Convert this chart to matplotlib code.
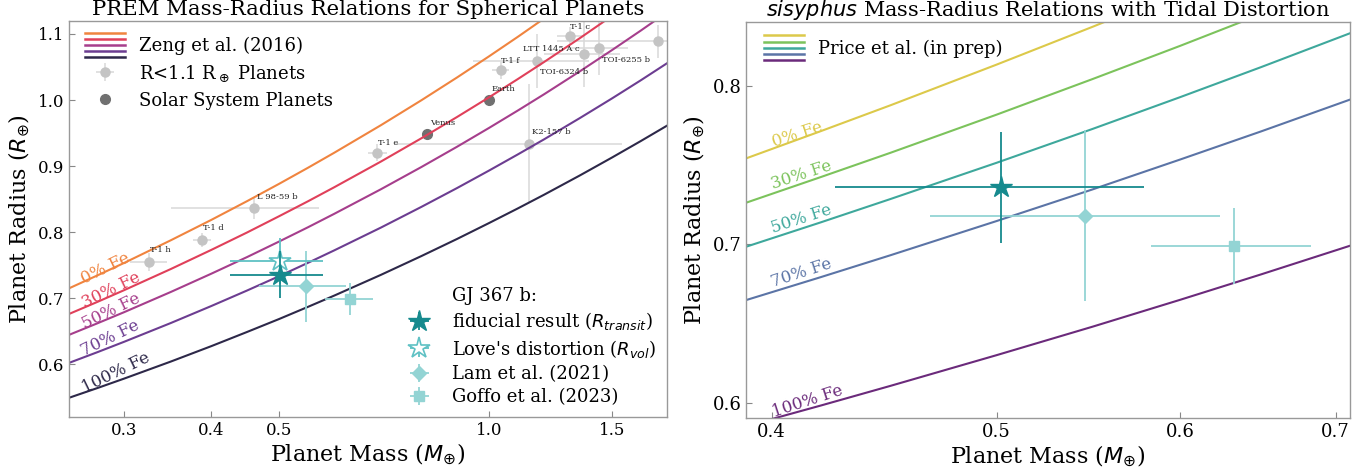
import matplotlib
matplotlib.use('Agg')
import matplotlib.pyplot as plt
from matplotlib.legend_handler import HandlerBase
from matplotlib.lines import Line2D
from matplotlib.ticker import FixedLocator, FixedFormatter, NullLocator

# ---------------- data ----------------
# Zeng et al. (2016) curves, left panel
zeng_mass = [0.25, 0.275, 0.3, 0.35, 0.4, 0.45, 0.5, 0.55, 0.6, 0.7, 0.8, 0.9,
             1.0, 1.1, 1.2, 1.35, 1.5, 1.65, 1.8]
zeng_r_0 = [0.7151, 0.7350, 0.7536, 0.7879, 0.8187, 0.8470, 0.8731, 0.8974, 0.9202,
            0.9619, 0.9996, 1.0341, 1.066, 1.0956, 1.1234]
zeng_r_30 = [0.6763, 0.6949, 0.7124, 0.7444, 0.7733, 0.7996, 0.8241, 0.8467, 0.8680,
             0.9069, 0.9421, 0.9743, 1.004, 1.0317, 1.0576, 1.0936, 1.1270]
zeng_r_50 = [0.6447, 0.6625, 0.6791, 0.7097, 0.7373, 0.7624, 0.7858, 0.8074, 0.8278,
             0.8650, 0.8986, 0.9293, 0.9577, 0.9841, 1.0088, 1.0434, 1.0753, 1.1049, 1.1327]
zeng_r_70 = [0.6023, 0.6188, 0.6343, 0.6627, 0.6884, 0.7118, 0.7334, 0.7536, 0.7725,
             0.8070, 0.8383, 0.8668, 0.8932, 0.9177, 0.9406, 0.9727, 1.0022, 1.0297, 1.0556]
zeng_r_100 = [0.5495, 0.5645, 0.5786, 0.6044, 0.6277, 0.6491, 0.6686, 0.6870, 0.7041,
              0.7355, 0.7639, 0.7898, 0.8138, 0.8360, 0.8568, 0.8859, 0.9128, 0.9378, 0.9612]
fe_labels = ['0% Fe', '30% Fe', '50% Fe', '70% Fe', '100% Fe']

# sisyphus curves, right panel
sis_mass = [0.39, 0.42, 0.45, 0.5, 0.55, 0.6, 0.65, 0.71]
sis_r_0 = [0.7543, 0.7715, 0.7878, 0.8135, 0.8374, 0.8599]
sis_r_30 = [0.7263, 0.7425, 0.7578, 0.7819, 0.8044, 0.8254, 0.8453]
sis_r_50 = [0.6985, 0.7139, 0.7286, 0.7515, 0.7729, 0.7930, 0.8119, 0.8333]
sis_r_70 = [0.6648, 0.6793, 0.6931, 0.7147, 0.7347, 0.7536, 0.7713, 0.7914]
sis_r_100 = [0.5852, 0.5982, 0.6106, 0.6300, 0.6480, 0.6650, 0.6810, 0.6991]

# small planets (R < 1.1 R_earth)
planet_names = ['T-1 h', 'T-1 d', 'L 98-59 b', 'T-1 e', 'T-1 f', 'T-1 c',
                'LTT 1445 A c', 'TOI-6324 b', 'TOI-6255 b', 'K2-157 b', '']
planet_mass = [0.326, 0.388, 0.46, 0.692, 1.039, 1.308, 1.37, 1.17, 1.44, 1.14, 1.75]
planet_mass_err = [0.020, 0.012, 0.11, 0.022, 0.028, 0.056, 0.17, 0.22, 0.14, 0.41, 0.5]
planet_radius = [0.755, 0.788, 0.837, 0.920, 1.045, 1.097, 1.07, 1.059, 1.078, 0.934, 1.089]
planet_radius_err = [0.014, 0.011, 0.017, 0.013, 0.013, 0.014, 0.05, 0.041, 0.04, 0.09, 0.025]

# solar system planets
solar_names = ['Venus', 'Earth']
solar_mass = [0.815, 1.0]
solar_radius = [0.949, 1.0]

# GJ 367 b
gj_title = 'GJ 367 b:'
gj_labels = ['fiducial result ($R_{transit}$)', "Love's distortion ($R_{vol}$)",
             'Lam et al. (2021)', 'Goffo et al. (2023)']
gj_mass = [0.502, 0.502, 0.546, 0.633]
gj_mass_err_lo = [0.076, 0.076, 0.078, 0.050]
gj_mass_err_hi = [0.077, 0.077, 0.078, 0.050]
gj_radius = [0.736, 0.757, 0.718, 0.699]
gj_radius_err = [0.035, 0.035, 0.054, 0.024]

left_xticks = [0.3, 0.4, 0.5, 1.0, 1.5]
left_xticklabels = ['0.3', '0.4', '0.5', '1.0', '1.5']
left_yticks = [0.6, 0.7, 0.8, 0.9, 1.0, 1.1]
right_xticks = [0.4, 0.5, 0.6, 0.7]
right_xticklabels = ['0.4', '0.5', '0.6', '0.7']
right_yticks = [0.6, 0.7, 0.8]

# ---------------- styling ----------------
plt.rcParams['font.family'] = ['DejaVu Serif']
plt.rcParams['mathtext.fontset'] = 'dejavusans'

zeng_colors = ['#f0843f', '#e0405a', '#a63e8c', '#6c3d91', '#2d2849']
sis_colors = ['#dcc94a', '#7cc35c', '#3ea89c', '#5b74a6', '#6b2a7b']
c_fid = '#168a8e'
c_love = '#5fc1c4'
c_lit = '#93d4d4'
c_planet = '#c4c4c4'
c_planet_err = '#d8d8d8'
c_solar = '#707070'


class MultiLineHandler(HandlerBase):
    def __init__(self, colors, spacing=0.34, lw=1.8):
        super().__init__()
        self.colors = colors
        self.spacing = spacing
        self.lw = lw

    def create_artists(self, legend, orig_handle, xdescent, ydescent,
                       width, height, fontsize, trans):
        n = len(self.colors)
        yc = height / 2 - ydescent
        arts = []
        for i, c in enumerate(self.colors):
            y = yc + ((n - 1) / 2 - i) * self.spacing * fontsize
            arts.append(Line2D([-xdescent, width - xdescent], [y, y], color=c,
                               lw=self.lw, transform=trans))
        return arts


class ZengProxy:
    pass


class PriceProxy:
    pass


def style_axes(ax, labelsize):
    for s in ax.spines.values():
        s.set_color('#999999')
        s.set_linewidth(1.0)
    ax.tick_params(which='both', direction='in', length=4, color='#888888',
                   labelcolor='black', labelsize=labelsize)


W, H = 1369, 469
fig = plt.figure(figsize=(W / 100, H / 100), dpi=100)
ax1 = fig.add_axes([69 / W, 1 - 417.3 / H, (667 - 69) / W, (417.3 - 20.7) / H])
ax2 = fig.add_axes([746.2 / W, 1 - 417.7 / H, (1350 - 746.2) / W, (417.7 - 21.7) / H])

# ---------------- left panel ----------------
ax1.set_xscale('log')
for r, c in zip([zeng_r_0, zeng_r_30, zeng_r_50, zeng_r_70, zeng_r_100], zeng_colors):
    ax1.plot(zeng_mass[:len(r)], r, color=c, lw=1.5, zorder=2)

fe_pos_left = [(0.282, 0.7445), (0.2874, 0.7117), (0.2874, 0.6799), (0.2866, 0.6401), (0.2915, 0.5876)]
for (mx, ry), lab, c in zip(fe_pos_left, fe_labels, zeng_colors):
    ax1.text(mx, ry, lab, color=c, fontsize=12, rotation=26, rotation_mode='anchor',
             ha='center', va='center', zorder=4)

planet_cont = None
for m, me, r, re_ in zip(planet_mass, planet_mass_err, planet_radius, planet_radius_err):
    planet_cont = ax1.errorbar(m, r, xerr=me, yerr=re_, fmt='o', color=c_planet, ms=6.5,
                               ecolor=c_planet_err, elinewidth=1.1, capsize=0, zorder=1)
ax1.plot(solar_mass, solar_radius, 'o', color=c_solar, ms=7, zorder=1.5)

# planet label offsets (pixels -> points)
lab_off = {'T-1 h': (1, 8, 'left', 'bottom'), 'T-1 d': (1, 8, 'left', 'bottom'),
           'L 98-59 b': (3, 7, 'left', 'bottom'), 'T-1 e': (1, 6, 'left', 'bottom'),
           'T-1 f': (0, 5, 'left', 'bottom'), 'T-1 c': (0, 5, 'left', 'bottom'),
           'LTT 1445 A c': (-5, 1, 'right', 'bottom'), 'TOI-6324 b': (3, -7, 'left', 'top'),
           'TOI-6255 b': (3, -8, 'left', 'top'), 'K2-157 b': (3, 8, 'left', 'bottom'),
           'Venus': (3, 7, 'left', 'bottom'), 'Earth': (3, 7, 'left', 'bottom')}
for name, m, r in list(zip(planet_names, planet_mass, planet_radius)) + \
        list(zip(solar_names, solar_mass, solar_radius)):
    if not name:
        continue
    dx, dy, ha, va = lab_off[name]
    ax1.annotate(name, (m, r), xytext=(dx * 0.72, dy * 0.72), textcoords='offset points',
                 fontsize=6, color='#222222', ha=ha, va=va, zorder=3)

gj_style = [dict(fmt='*', color=c_fid, ms=16, mfc=c_fid, mec=c_fid, zorder=6),
            dict(fmt='*', color=c_love, ms=16, mfc='white', mec=c_love, mew=1.2, zorder=5),
            dict(fmt='D', color=c_lit, ms=7, zorder=4),
            dict(fmt='s', color=c_lit, ms=7, zorder=4)]
gj_handles = []
for i in range(4):
    st = dict(gj_style[i])
    h = ax1.errorbar(gj_mass[i], gj_radius[i],
                     xerr=[[gj_mass_err_lo[i]], [gj_mass_err_hi[i]]],
                     yerr=gj_radius_err[i], capsize=0, elinewidth=1.3, **st)
    gj_handles.append(h)

ax1.xaxis.set_major_locator(FixedLocator(left_xticks))
ax1.xaxis.set_major_formatter(FixedFormatter(left_xticklabels))
ax1.xaxis.set_minor_locator(NullLocator())
ax1.set_yticks(left_yticks)
ax1.set_xlim(0.25, 1.8)
ax1.set_ylim(0.52, 1.12)
style_axes(ax1, 12)
ax1.set_xlabel(r'Planet Mass ($M_{\oplus}$)', fontsize=16, labelpad=2)
ax1.set_ylabel(r'Planet Radius ($R_{\oplus}$)', fontsize=16, labelpad=4)
ax1.set_title('PREM Mass-Radius Relations for Spherical Planets', fontsize=15.3, pad=4)

leg1 = ax1.legend([ZengProxy(), planet_cont, Line2D([], [], ls='none', marker='o', color=c_solar, ms=7)],
                  ['Zeng et al. (2016)', r'R<1.1 R$_\oplus$ Planets', 'Solar System Planets'],
                  handler_map={ZengProxy: MultiLineHandler(zeng_colors)},
                  loc='upper left', frameon=False, fontsize=13, handlelength=2.2,
                  borderaxespad=0.5, labelspacing=0.45)
ax1.add_artist(leg1)
blank = Line2D([], [], ls='none', marker='none')
leg2 = ax1.legend([blank] + gj_handles, [gj_title] + gj_labels,
                  loc='lower right', frameon=False, fontsize=13,
                  handlelength=2.0, borderaxespad=0.2, labelspacing=0.3)

# ---------------- right panel ----------------
ax2.set_xscale('log')
for r, c in zip([sis_r_0, sis_r_30, sis_r_50, sis_r_70, sis_r_100], sis_colors):
    ax2.plot(sis_mass[:len(r)], r, color=c, lw=1.5, zorder=2)

fe_pos_right = [(0.4103, 0.7691), (0.4121, 0.7438), (0.4121, 0.716), (0.4121, 0.6817), (0.4143, 0.6006)]
for (mx, ry), lab, c in zip(fe_pos_right, fe_labels, sis_colors):
    ax2.text(mx, ry, lab, color=c, fontsize=12, rotation=18, rotation_mode='anchor',
             ha='center', va='center', zorder=4)

for i in [0, 2, 3]:
    st = dict(gj_style[i])
    ax2.errorbar(gj_mass[i], gj_radius[i],
                 xerr=[[gj_mass_err_lo[i]], [gj_mass_err_hi[i]]],
                 yerr=gj_radius_err[i], capsize=0, elinewidth=1.3, **st)

ax2.xaxis.set_major_locator(FixedLocator(right_xticks))
ax2.xaxis.set_major_formatter(FixedFormatter(right_xticklabels))
ax2.xaxis.set_minor_locator(NullLocator())
ax2.set_yticks(right_yticks)
ax2.set_xlim(0.39, 0.71)
ax2.set_ylim(0.5905, 0.8406)
style_axes(ax2, 13)
ax2.set_xlabel(r'Planet Mass ($M_{\oplus}$)', fontsize=16, labelpad=2)
ax2.set_ylabel(r'Planet Radius ($R_{\oplus}$)', fontsize=16, labelpad=4)
ax2.set_title(r'$\it{sisyphus}$ Mass-Radius Relations with Tidal Distortion', fontsize=15, pad=3)
ax2.legend([PriceProxy()], ['Price et al. (in prep)'],
           handler_map={PriceProxy: MultiLineHandler(sis_colors)},
           loc='upper left', frameon=False, fontsize=13, handlelength=2.2, borderaxespad=0.6)

fig.savefig('out.png', dpi=100)
